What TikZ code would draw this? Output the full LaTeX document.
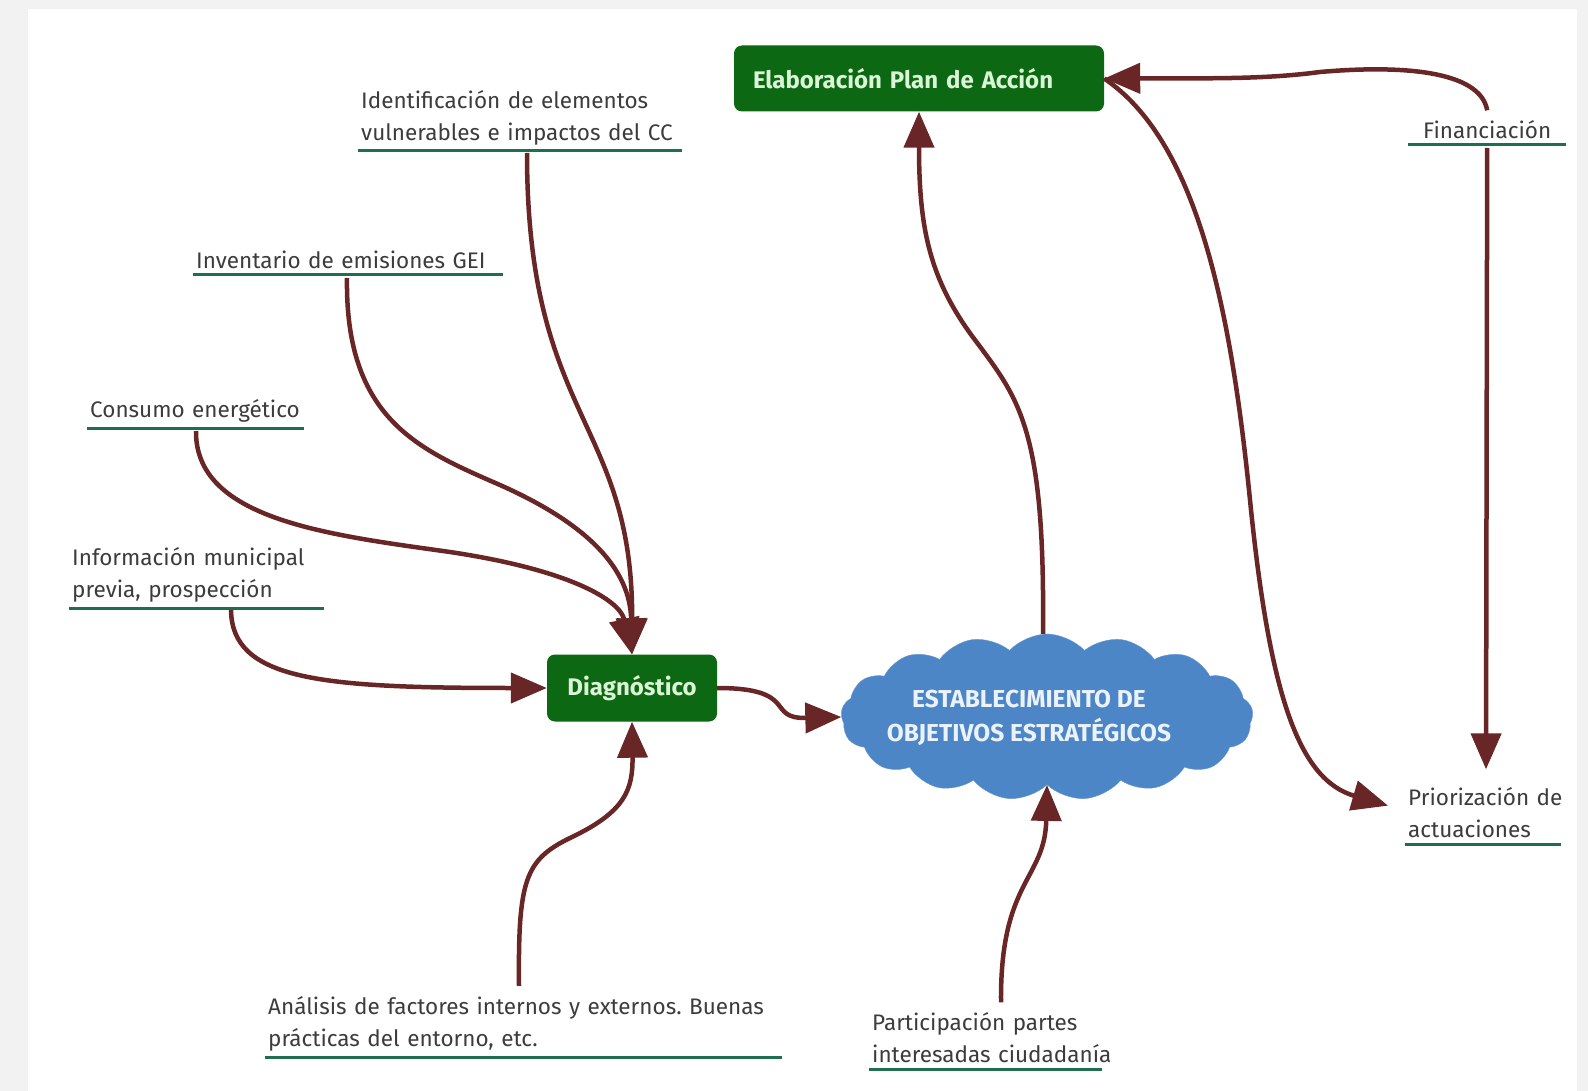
\documentclass[tikz,border=0pt]{standalone}
\usepackage{fontspec}
\setmainfont{Fira Sans}
\usetikzlibrary{arrows.meta,shapes.symbols,calc}
\definecolor{arr}{RGB}{105,38,38}
\definecolor{boxg}{RGB}{12,104,18}
\definecolor{boxt}{RGB}{220,245,215}
\definecolor{cloudb}{RGB}{76,134,198}
\definecolor{cloudt}{RGB}{235,242,250}
\definecolor{ulc}{RGB}{30,110,80}
\definecolor{txt}{RGB}{60,60,60}
\definecolor{bgg}{RGB}{242,242,242}
\frenchspacing
\begin{document}
\begin{tikzpicture}[x=1pt,y=-1pt,
  conn/.style={draw=arr, line width=4.5pt, -{Triangle[length=36pt,width=30pt]}},
  lbl/.style={anchor=south west, text=txt, font=\fontsize{22.5}{32}\selectfont, align=left, inner xsep=3pt, inner ysep=6pt},
  uline/.style={draw=ulc, line width=3pt},
  gbox/.style={fill=boxg, text=boxt, rounded corners=8pt, font=\fontsize{24}{28}\selectfont\bfseries},
]
\fill[bgg] (0,0) rectangle (1588,1091);
\fill[white] (28,9) rectangle (1577,1091);
\useasboundingbox (0,0) rectangle (1588,1091);

% main nodes
\node[gbox, inner xsep=19pt, text width=332pt, align=left, minimum height=66pt] (elab) at (919,78.5) {Elaboración Plan de Acción};
\node[gbox, minimum width=170pt, minimum height=67pt] (diag) at (632,688) {Diagnóstico};
\node[cloud, fill=cloudb, draw=cloudb!85!white, cloud puffs=17, cloud puff arc=95, aspect=2.4,
      minimum width=412pt, minimum height=166pt, inner sep=0pt, text=cloudt,
      font=\fontsize{24.5}{34}\selectfont\bfseries] (cloud) at (1047,717)
  {\smash{\makebox[0pt]{\hspace*{-36pt}\raisebox{-7pt}{\begin{tabular}{@{}c@{}}ESTABLECIMIENTO DE\\OBJETIVOS ESTRATÉGICOS\end{tabular}}}}};

% labels
\node[lbl, text width=318pt] (ident) at (358,151) {\mbox{Identificación de elementos}\\\mbox{vulnerables e impactos del CC}};
\node[lbl, text width=304pt] (inv) at (193,275) {\mbox{Inventario de emisiones GEI}};
\node[lbl, text width=211pt] (cons) at (87,428) {\mbox{Consumo energético}};
\node[lbl, text width=249pt] (info) at (69,608) {\mbox{Información municipal}\\\mbox{previa, prospección}};
\node[lbl, text width=511pt] (anal) at (265,1057) {\mbox{Análisis de factores internos y externos. Buenas}\\\mbox{prácticas del entorno, etc.}};
\node[lbl, text width=227pt] (part) at (869,1069) {\mbox{Participación partes}\\\mbox{interesadas ciudadanía}};
\node[lbl, text width=152pt, align=center] (fin) at (1408,145) {\mbox{Financiación}};
\node[lbl, text width=150pt] (prio) at (1405,844) {\mbox{Priorización de}\\\mbox{actuaciones}};

\foreach \n in {ident,inv,cons,info,anal,part,fin,prio}
  \draw[uline] (\n.south west) -- (\n.south east);

% connectors
\draw[conn] ($(ident.south west)+(169,2)$) .. controls (527,420) and (633,420) .. (diag.north);
\draw[conn] ($(inv.south west)+(154,3)$) .. controls (345,420) and (420,450) .. (500,485) .. controls (590,525) and (630,570) .. (diag.north);
\draw[conn] ($(cons.south west)+(109,3)$) .. controls (195,520) and (330,535) .. (450,552) .. controls (570,570) and (620,600) .. (diag.north);
\draw[conn] ($(info.south west)+(162,2)$) .. controls (232,680) and (320,688) .. (diag.west);
\draw[conn] ($(anal.north west)+(254,-4)$) .. controls (518,880) and (525,860) .. (570,838) .. controls (625,812) and (633,790) .. (diag.south);
\draw[conn] (diag.east) .. controls (800,688) and (765,719) .. (cloud.west);
\draw[conn] ($(cloud.north)+(-4,0)$) .. controls (1045,430) and (1020,400) .. (975,340) .. controls (930,280) and (919,230) .. (elab.south);
\draw[conn] ($(part.north west)+(132,-4)$) .. controls (1000,880) and (1045,880) .. (cloud.south);
\draw[conn] ($(fin.north)+(0,-4)$) .. controls (1480,70) and (1400,65) .. (1320,72) .. controls (1260,80) and (1200,78) .. (elab.east);
\draw[conn] (elab.east) .. controls (1195,140) and (1230,300) .. (1250,500) .. controls (1270,700) and (1300,780) .. ($(prio.west)+(-17,-7)$);
\draw[conn] ($(fin.south)+(0,3)$) -- ($(prio.north west)+(81,-12)$);
\end{tikzpicture}
\end{document}
